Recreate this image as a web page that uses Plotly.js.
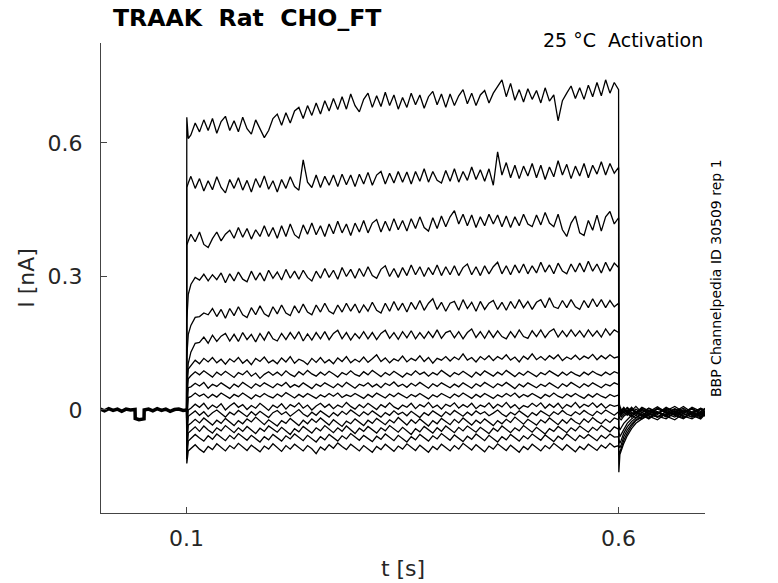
<!DOCTYPE html>
<html>
<head>
<meta charset="utf-8">
<script src="https://cdn.plot.ly/plotly-3.0.1.min.js"></script>
<style>
html, body { margin:0; padding:0; background:#fff; }
#traak-chart { width:778px; height:583px; }
</style>
</head>
<body>
<div id="traak-chart"></div>
<script>
// sample times in seconds
function grid(start, stop, step) {
  var out = [];
  var n = Math.round((stop - start) / step);
  for (var i = 0; i <= n; i++) out.push(+(start + i * step).toFixed(4));
  return out;
}

// holding period before the step (all sweeps overlap here)
const tPre = [0, 0.005, 0.01, 0.015, 0.02, 0.025, 0.03, 0.035, 0.0404, 0.0406, 0.045, 0.0508, 0.051, 0.056, 0.061, 0.066, 0.071, 0.076, 0.081, 0.086, 0.091, 0.096, 0.1];
const iPre = [0.002, -0.002, 0.003, -0.001, 0.002, -0.003, 0.002, 0, 0.001, -0.019, -0.022, -0.02, 0, 0.002, -0.002, 0.003, -0.001, 0.002, -0.003, 0.001, 0.002, -0.001, 0];

// step onset, then every 5 ms up to the end of the step
const tStep = [0.1, 0.1003, 0.102].concat(grid(0.105, 0.6, 0.005));
const tTail = [0.6003, 0.6015, 0.603, 0.606, 0.61, 0.615, 0.62, 0.627, 0.635, 0.645, 0.655, 0.665, 0.675, 0.685, 0.695, 0.7];

// sweeps during the step, nA (top to bottom)
const step1 = [0, 0.658, 0.61,
  0.618, 0.645, 0.625, 0.652, 0.628, 0.655, 0.622, 0.648, 0.66, 0.628,
  0.65, 0.625, 0.658, 0.632, 0.62, 0.652, 0.63, 0.612, 0.628, 0.655,
  0.665, 0.64, 0.668, 0.645, 0.672, 0.68, 0.655, 0.684, 0.662, 0.69,
  0.665, 0.695, 0.672, 0.7, 0.675, 0.704, 0.676, 0.71, 0.684, 0.67,
  0.698, 0.712, 0.68, 0.706, 0.682, 0.714, 0.684, 0.708, 0.676, 0.702,
  0.68, 0.712, 0.686, 0.708, 0.678, 0.704, 0.716, 0.686, 0.71, 0.68,
  0.71, 0.684, 0.706, 0.72, 0.688, 0.712, 0.684, 0.708, 0.718, 0.69,
  0.712, 0.728, 0.742, 0.704, 0.734, 0.696, 0.72, 0.692, 0.722, 0.698,
  0.718, 0.69, 0.724, 0.694, 0.708, 0.65, 0.695, 0.712, 0.728, 0.7,
  0.724, 0.698, 0.73, 0.704, 0.736, 0.706, 0.742, 0.712, 0.736, 0.72];
const step2 = [0, 0.5, 0.51,
  0.525, 0.498, 0.52, 0.492, 0.515, 0.495, 0.524, 0.5, 0.488, 0.518,
  0.498, 0.522, 0.494, 0.516, 0.49, 0.52, 0.5, 0.526, 0.496, 0.515,
  0.49, 0.518, 0.498, 0.524, 0.502, 0.494, 0.562, 0.512, 0.5, 0.528,
  0.5, 0.525, 0.505, 0.528, 0.502, 0.53, 0.506, 0.528, 0.502, 0.53,
  0.508, 0.534, 0.505, 0.528, 0.536, 0.508, 0.532, 0.51, 0.536, 0.512,
  0.535, 0.508, 0.536, 0.514, 0.542, 0.512, 0.536, 0.516, 0.51, 0.538,
  0.514, 0.542, 0.512, 0.536, 0.516, 0.546, 0.518, 0.54, 0.514, 0.542,
  0.505, 0.58, 0.528, 0.556, 0.522, 0.55, 0.52, 0.548, 0.526, 0.554,
  0.522, 0.55, 0.518, 0.546, 0.524, 0.56, 0.528, 0.552, 0.52, 0.548,
  0.526, 0.554, 0.522, 0.55, 0.53, 0.558, 0.528, 0.554, 0.532, 0.545];
const step3 = [0, 0.37, 0.38,
  0.395, 0.378, 0.4, 0.372, 0.365, 0.385, 0.4, 0.38, 0.395, 0.404,
  0.386, 0.41, 0.388, 0.408, 0.384, 0.405, 0.39, 0.414, 0.39, 0.41,
  0.386, 0.414, 0.39, 0.418, 0.394, 0.386, 0.416, 0.395, 0.42, 0.394,
  0.414, 0.39, 0.418, 0.396, 0.424, 0.398, 0.418, 0.392, 0.42, 0.4,
  0.426, 0.398, 0.42, 0.428, 0.4, 0.424, 0.402, 0.43, 0.405, 0.426,
  0.402, 0.43, 0.408, 0.434, 0.41, 0.402, 0.432, 0.408, 0.436, 0.412,
  0.434, 0.448, 0.418, 0.44, 0.414, 0.438, 0.41, 0.434, 0.414, 0.44,
  0.418, 0.438, 0.412, 0.436, 0.41, 0.434, 0.414, 0.44, 0.418, 0.412,
  0.438, 0.416, 0.444, 0.42, 0.412, 0.44, 0.405, 0.39, 0.42, 0.436,
  0.398, 0.392, 0.426, 0.404, 0.438, 0.402, 0.434, 0.446, 0.418, 0.432];
const step4 = [0, 0.2, 0.26,
  0.282, 0.298, 0.292, 0.305, 0.29, 0.304, 0.293, 0.308, 0.286, 0.306,
  0.29, 0.31, 0.294, 0.288, 0.312, 0.292, 0.308, 0.29, 0.314, 0.296,
  0.31, 0.292, 0.316, 0.296, 0.312, 0.294, 0.314, 0.298, 0.29, 0.312,
  0.296, 0.318, 0.298, 0.314, 0.294, 0.32, 0.3, 0.316, 0.296, 0.318,
  0.3, 0.322, 0.302, 0.296, 0.316, 0.324, 0.3, 0.318, 0.298, 0.32,
  0.302, 0.326, 0.304, 0.322, 0.3, 0.32, 0.304, 0.326, 0.302, 0.322,
  0.304, 0.324, 0.302, 0.32, 0.328, 0.304, 0.322, 0.302, 0.324, 0.306,
  0.322, 0.332, 0.306, 0.324, 0.304, 0.326, 0.308, 0.328, 0.306, 0.324,
  0.308, 0.332, 0.31, 0.326, 0.306, 0.33, 0.312, 0.306, 0.328, 0.31,
  0.33, 0.31, 0.334, 0.312, 0.328, 0.308, 0.332, 0.312, 0.33, 0.32];
const step5 = [0, 0.12, 0.17,
  0.19, 0.208, 0.21, 0.218, 0.214, 0.228, 0.21, 0.226, 0.206, 0.228,
  0.212, 0.232, 0.214, 0.208, 0.23, 0.214, 0.234, 0.216, 0.21, 0.232,
  0.216, 0.236, 0.218, 0.212, 0.234, 0.218, 0.238, 0.22, 0.214, 0.236,
  0.22, 0.24, 0.222, 0.216, 0.236, 0.22, 0.24, 0.222, 0.238, 0.218,
  0.236, 0.222, 0.242, 0.224, 0.218, 0.24, 0.222, 0.244, 0.224, 0.24,
  0.22, 0.242, 0.226, 0.246, 0.224, 0.24, 0.25, 0.226, 0.242, 0.222,
  0.24, 0.244, 0.224, 0.248, 0.228, 0.242, 0.222, 0.244, 0.226, 0.24,
  0.246, 0.226, 0.242, 0.224, 0.244, 0.228, 0.248, 0.23, 0.244, 0.226,
  0.242, 0.248, 0.23, 0.252, 0.232, 0.228, 0.246, 0.23, 0.248, 0.232,
  0.226, 0.246, 0.23, 0.25, 0.232, 0.248, 0.23, 0.246, 0.232, 0.24];
const step6 = [0, 0.06, 0.105,
  0.13, 0.15, 0.152, 0.164, 0.15, 0.168, 0.154, 0.166, 0.172, 0.155,
  0.17, 0.154, 0.174, 0.158, 0.17, 0.153, 0.172, 0.157, 0.176, 0.16,
  0.155, 0.172, 0.158, 0.174, 0.16, 0.176, 0.155, 0.171, 0.157, 0.174,
  0.16, 0.176, 0.158, 0.172, 0.179, 0.16, 0.174, 0.157, 0.172, 0.161,
  0.176, 0.16, 0.174, 0.158, 0.172, 0.179, 0.161, 0.174, 0.159, 0.176,
  0.162, 0.178, 0.16, 0.174, 0.161, 0.176, 0.163, 0.18, 0.161, 0.174,
  0.178, 0.162, 0.176, 0.16, 0.174, 0.182, 0.163, 0.176, 0.161, 0.178,
  0.163, 0.178, 0.165, 0.16, 0.176, 0.163, 0.18, 0.165, 0.161, 0.178,
  0.165, 0.18, 0.163, 0.176, 0.182, 0.164, 0.178, 0.165, 0.18, 0.166,
  0.178, 0.164, 0.18, 0.166, 0.178, 0.164, 0.182, 0.168, 0.18, 0.174];
const step7 = [0, 0.04, 0.092,
  0.1, 0.112, 0.104, 0.116, 0.108, 0.118, 0.106, 0.114, 0.103, 0.115,
  0.108, 0.118, 0.105, 0.113, 0.102, 0.116, 0.109, 0.119, 0.106, 0.112,
  0.104, 0.117, 0.108, 0.12, 0.105, 0.114, 0.11, 0.102, 0.116, 0.107,
  0.118, 0.106, 0.113, 0.104, 0.117, 0.109, 0.12, 0.106, 0.114, 0.108,
  0.119, 0.107, 0.115, 0.124, 0.109, 0.117, 0.106, 0.115, 0.11, 0.121,
  0.108, 0.116, 0.111, 0.122, 0.109, 0.118, 0.105, 0.116, 0.112, 0.12,
  0.11, 0.119, 0.113, 0.126, 0.112, 0.118, 0.108, 0.12, 0.113, 0.122,
  0.111, 0.12, 0.114, 0.124, 0.112, 0.119, 0.108, 0.121, 0.114, 0.126,
  0.113, 0.12, 0.112, 0.122, 0.115, 0.124, 0.111, 0.119, 0.114, 0.123,
  0.113, 0.121, 0.116, 0.125, 0.113, 0.122, 0.115, 0.124, 0.117, 0.12];
const step8 = [0, 0.02, 0.07,
  0.077, 0.086, 0.079, 0.088, 0.081, 0.074, 0.085, 0.078, 0.087, 0.08,
  0.073, 0.084, 0.079, 0.088, 0.076, 0.083, 0.071, 0.08, 0.086, 0.078,
  0.085, 0.077, 0.088, 0.08, 0.075, 0.086, 0.079, 0.089, 0.081, 0.076,
  0.085, 0.078, 0.087, 0.081, 0.074, 0.084, 0.079, 0.088, 0.08, 0.076,
  0.086, 0.079, 0.089, 0.082, 0.075, 0.084, 0.078, 0.087, 0.081, 0.074,
  0.083, 0.078, 0.088, 0.08, 0.085, 0.076, 0.084, 0.079, 0.089, 0.081,
  0.075, 0.084, 0.079, 0.087, 0.08, 0.074, 0.085, 0.078, 0.088, 0.081,
  0.076, 0.085, 0.079, 0.089, 0.082, 0.075, 0.084, 0.078, 0.087, 0.08,
  0.075, 0.084, 0.079, 0.088, 0.081, 0.076, 0.085, 0.078, 0.086, 0.08,
  0.076, 0.085, 0.079, 0.087, 0.081, 0.077, 0.085, 0.079, 0.086, 0.082];
const step9 = [0, -0.015, 0.05,
  0.052, 0.06, 0.054, 0.062, 0.049, 0.058, 0.053, 0.061, 0.055, 0.048,
  0.058, 0.052, 0.062, 0.055, 0.049, 0.059, 0.053, 0.061, 0.056, 0.05,
  0.059, 0.054, 0.062, 0.051, 0.057, 0.052, 0.061, 0.055, 0.048, 0.058,
  0.053, 0.061, 0.056, 0.05, 0.059, 0.052, 0.062, 0.055, 0.049, 0.058,
  0.054, 0.061, 0.052, 0.058, 0.05, 0.06, 0.055, 0.063, 0.053, 0.058,
  0.051, 0.06, 0.054, 0.062, 0.056, 0.049, 0.059, 0.053, 0.061, 0.055,
  0.05, 0.058, 0.052, 0.061, 0.055, 0.049, 0.059, 0.053, 0.062, 0.056,
  0.05, 0.059, 0.054, 0.062, 0.055, 0.048, 0.058, 0.052, 0.061, 0.055,
  0.05, 0.058, 0.053, 0.061, 0.054, 0.049, 0.059, 0.053, 0.062, 0.056,
  0.05, 0.059, 0.053, 0.061, 0.055, 0.05, 0.058, 0.054, 0.061, 0.057];
const step10 = [0, -0.035, 0.028,
  0.03, 0.038, 0.031, 0.036, 0.027, 0.035, 0.029, 0.038, 0.032, 0.026,
  0.035, 0.03, 0.038, 0.032, 0.025, 0.034, 0.029, 0.037, 0.031, 0.027,
  0.036, 0.03, 0.039, 0.033, 0.027, 0.035, 0.029, 0.037, 0.032, 0.026,
  0.034, 0.029, 0.037, 0.031, 0.038, 0.028, 0.034, 0.03, 0.037, 0.032,
  0.026, 0.035, 0.029, 0.038, 0.032, 0.027, 0.036, 0.03, 0.038, 0.033,
  0.027, 0.035, 0.03, 0.037, 0.031, 0.025, 0.034, 0.029, 0.037, 0.032,
  0.027, 0.036, 0.03, 0.038, 0.032, 0.026, 0.035, 0.029, 0.037, 0.031,
  0.026, 0.034, 0.029, 0.037, 0.031, 0.038, 0.028, 0.035, 0.03, 0.037,
  0.032, 0.026, 0.035, 0.03, 0.038, 0.031, 0.027, 0.036, 0.03, 0.037,
  0.031, 0.026, 0.035, 0.029, 0.037, 0.031, 0.027, 0.035, 0.03, 0.034];
const step11 = [0, -0.055, 0.0,
  0.004, 0.013, 0.006, 0.015, 0.002, 0.011, 0.005, 0.014, 0.0, 0.009,
  0.016, 0.006, 0.012, 0.001, 0.01, 0.004, 0.015, 0.007, -0.001, 0.011,
  0.005, 0.014, 0.002, 0.012, 0.007, 0.016, 0.004, 0.011, 0.0, 0.009,
  0.015, 0.006, 0.013, 0.003, 0.011, 0.006, 0.017, 0.008, 0.002, 0.012,
  0.005, 0.015, 0.008, 0.001, 0.012, 0.006, 0.016, 0.007, 0.002, 0.011,
  0.006, 0.015, 0.003, 0.012, 0.007, 0.017, 0.005, 0.011, 0.002, 0.013,
  0.008, 0.016, 0.004, 0.012, 0.006, 0.015, 0.003, 0.011, 0.007, 0.016,
  0.004, 0.013, 0.007, 0.017, 0.005, 0.012, 0.002, 0.01, 0.006, 0.015,
  0.008, 0.016, 0.004, 0.013, 0.006, 0.015, 0.003, 0.012, 0.007, 0.017,
  0.005, 0.013, 0.008, 0.016, 0.006, 0.014, 0.004, 0.012, 0.008, 0.011];
const step12 = [0, -0.07, -0.014,
  -0.01, -0.002, -0.012, -0.004, -0.015, -0.006, 0.0, -0.009, -0.016, -0.005,
  -0.011, -0.001, -0.008, -0.015, -0.004, -0.012, -0.003, -0.01, -0.017, -0.006,
  -0.001, -0.01, -0.004, -0.014, -0.007, 0.001, -0.009, -0.015, -0.005, -0.012,
  -0.002, -0.009, -0.016, -0.006, -0.013, -0.003, -0.01, 0.0, -0.008, -0.014,
  -0.004, -0.011, -0.002, -0.009, -0.016, -0.006, -0.012, -0.002, -0.01, -0.005,
  -0.013, -0.003, -0.01, -0.017, -0.006, -0.012, -0.002, -0.009, -0.015, -0.004,
  -0.011, -0.001, -0.008, -0.014, -0.005, -0.012, -0.002, -0.009, -0.004, -0.013,
  -0.007, 0.0, -0.009, -0.015, -0.005, -0.011, -0.002, -0.01, -0.016, -0.006,
  -0.012, -0.002, -0.008, -0.014, -0.004, -0.01, -0.001, -0.009, -0.013, -0.004,
  -0.01, -0.001, -0.008, -0.013, -0.003, -0.009, 0.0, -0.007, -0.012, -0.004];
const step13 = [0, -0.085, -0.034,
  -0.03, -0.021, -0.029, -0.018, -0.027, -0.034, -0.023, -0.03, -0.019, -0.028,
  -0.035, -0.024, -0.031, -0.02, -0.027, -0.016, -0.025, -0.033, -0.022, -0.029,
  -0.036, -0.024, -0.03, -0.019, -0.027, -0.035, -0.023, -0.031, -0.02, -0.028,
  -0.018, -0.026, -0.034, -0.022, -0.03, -0.037, -0.025, -0.031, -0.02, -0.028,
  -0.035, -0.023, -0.03, -0.019, -0.027, -0.033, -0.022, -0.029, -0.017, -0.026,
  -0.034, -0.022, -0.03, -0.02, -0.028, -0.036, -0.024, -0.031, -0.019, -0.027,
  -0.033, -0.021, -0.029, -0.018, -0.026, -0.034, -0.023, -0.03, -0.02, -0.028,
  -0.035, -0.024, -0.031, -0.021, -0.028, -0.016, -0.025, -0.032, -0.021, -0.028,
  -0.034, -0.022, -0.029, -0.018, -0.026, -0.033, -0.022, -0.03, -0.019, -0.027,
  -0.032, -0.02, -0.028, -0.017, -0.025, -0.031, -0.021, -0.028, -0.018, -0.022];
const step14 = [0, -0.1, -0.052,
  -0.046, -0.038, -0.048, -0.036, -0.045, -0.052, -0.04, -0.047, -0.035, -0.044,
  -0.051, -0.04, -0.048, -0.037, -0.045, -0.053, -0.041, -0.048, -0.036, -0.044,
  -0.05, -0.039, -0.047, -0.055, -0.042, -0.049, -0.037, -0.045, -0.052, -0.04,
  -0.047, -0.035, -0.044, -0.051, -0.04, -0.048, -0.036, -0.045, -0.053, -0.041,
  -0.048, -0.037, -0.045, -0.052, -0.04, -0.047, -0.035, -0.043, -0.05, -0.039,
  -0.047, -0.055, -0.042, -0.049, -0.037, -0.045, -0.052, -0.04, -0.048, -0.036,
  -0.044, -0.051, -0.039, -0.047, -0.036, -0.043, -0.05, -0.039, -0.046, -0.053,
  -0.041, -0.048, -0.036, -0.044, -0.051, -0.04, -0.047, -0.035, -0.043, -0.05,
  -0.039, -0.046, -0.054, -0.042, -0.048, -0.037, -0.044, -0.051, -0.04, -0.047,
  -0.036, -0.043, -0.05, -0.039, -0.046, -0.035, -0.042, -0.049, -0.038, -0.043];
const step15 = [0, -0.11, -0.07,
  -0.064, -0.055, -0.063, -0.07, -0.058, -0.066, -0.054, -0.062, -0.069, -0.057,
  -0.065, -0.053, -0.061, -0.068, -0.057, -0.064, -0.072, -0.06, -0.067, -0.055,
  -0.063, -0.07, -0.058, -0.065, -0.054, -0.062, -0.069, -0.057, -0.064, -0.072,
  -0.06, -0.067, -0.055, -0.063, -0.07, -0.058, -0.065, -0.053, -0.061, -0.068,
  -0.057, -0.064, -0.071, -0.059, -0.066, -0.054, -0.062, -0.069, -0.057, -0.064,
  -0.072, -0.06, -0.067, -0.055, -0.063, -0.07, -0.058, -0.065, -0.053, -0.061,
  -0.068, -0.056, -0.064, -0.071, -0.059, -0.066, -0.054, -0.062, -0.069, -0.057,
  -0.064, -0.072, -0.06, -0.067, -0.055, -0.063, -0.07, -0.058, -0.065, -0.054,
  -0.061, -0.068, -0.056, -0.064, -0.071, -0.059, -0.066, -0.054, -0.062, -0.069,
  -0.057, -0.064, -0.055, -0.062, -0.069, -0.057, -0.064, -0.054, -0.061, -0.06];
const step16 = [0, -0.12, -0.092,
  -0.086, -0.078, -0.088, -0.095, -0.082, -0.089, -0.076, -0.085, -0.092, -0.08,
  -0.087, -0.075, -0.084, -0.091, -0.079, -0.087, -0.094, -0.081, -0.088, -0.076,
  -0.085, -0.093, -0.08, -0.088, -0.077, -0.084, -0.092, -0.08, -0.087, -0.098,
  -0.083, -0.09, -0.078, -0.086, -0.074, -0.082, -0.089, -0.077, -0.085, -0.092,
  -0.08, -0.088, -0.095, -0.082, -0.089, -0.077, -0.085, -0.093, -0.081, -0.088,
  -0.076, -0.084, -0.091, -0.079, -0.087, -0.095, -0.082, -0.089, -0.077, -0.085,
  -0.092, -0.08, -0.088, -0.075, -0.083, -0.09, -0.078, -0.086, -0.094, -0.081,
  -0.088, -0.076, -0.084, -0.091, -0.079, -0.087, -0.095, -0.082, -0.089, -0.077,
  -0.085, -0.092, -0.08, -0.087, -0.075, -0.083, -0.09, -0.078, -0.086, -0.094,
  -0.082, -0.089, -0.077, -0.084, -0.091, -0.079, -0.086, -0.075, -0.083, -0.08];

// tail currents after stepping back, nA
const tail1 = [0.018, 0.008, 0.002, -0.004, 0.006, -0.002, 0.008, -0.006, 0.004, -0.008, 0.006, -0.004, 0.008, -0.006, 0.004, 0.0];
const tail2 = [0.015, 0.005, -0.002, 0.006, -0.005, 0.004, -0.008, 0.005, -0.004, 0.007, -0.006, 0.003, -0.008, 0.006, -0.003, 0.002];
const tail3 = [0.012, 0.004, -0.004, 0.004, -0.006, 0.006, -0.004, 0.002, -0.008, 0.004, -0.002, 0.008, -0.004, 0.002, -0.006, 0.004];
const tail4 = [0.01, 0.002, -0.005, 0.003, -0.008, 0.002, -0.006, 0.006, -0.002, -0.01, 0.004, -0.006, 0.004, -0.01, 0.003, -0.004];
const tail5 = [0.008, 0.0, -0.006, 0.002, -0.004, -0.01, 0.002, -0.006, 0.004, -0.004, -0.012, 0.002, -0.004, 0.004, -0.008, -0.002];
const tail6 = [0.006, -0.002, -0.008, -0.002, 0.004, -0.006, -0.012, 0.0, -0.008, 0.002, -0.006, -0.01, 0.0, -0.006, 0.002, -0.008];
const tail7 = [0.004, -0.004, -0.01, -0.004, -0.012, 0.0, -0.006, -0.014, -0.002, -0.008, 0.002, -0.012, -0.004, 0.002, -0.01, -0.004];
const tail8 = [0.0, -0.008, -0.012, -0.006, 0.0, -0.01, -0.004, -0.012, 0.0, -0.006, -0.014, -0.002, -0.008, -0.016, -0.004, -0.01];
const tail9 = [-0.006, -0.012, -0.016, -0.01, -0.004, -0.014, -0.006, 0.002, -0.01, -0.016, -0.004, -0.01, 0.0, -0.012, -0.006, -0.014];
const tail10 = [-0.012, -0.02, -0.022, -0.014, -0.008, -0.016, -0.004, -0.012, -0.02, -0.006, -0.012, -0.002, -0.016, -0.008, -0.018, -0.006];
const tail11 = [-0.035, -0.045, -0.04, -0.03, -0.022, -0.012, -0.018, -0.006, -0.014, -0.022, -0.008, -0.016, -0.004, -0.012, -0.02, -0.01];
const tail12 = [-0.05, -0.06, -0.055, -0.042, -0.03, -0.02, -0.012, -0.02, -0.008, -0.016, -0.004, -0.012, -0.02, -0.006, -0.014, -0.008];
const tail13 = [-0.065, -0.075, -0.068, -0.052, -0.038, -0.026, -0.018, -0.01, -0.018, -0.006, -0.014, -0.022, -0.008, -0.016, -0.004, -0.012];
const tail14 = [-0.08, -0.085, -0.078, -0.06, -0.045, -0.032, -0.022, -0.014, -0.006, -0.016, -0.01, -0.002, -0.014, -0.02, -0.008, -0.012];
const tail15 = [-0.1, -0.095, -0.085, -0.068, -0.052, -0.036, -0.024, -0.016, -0.008, -0.014, -0.02, -0.006, -0.012, -0.004, -0.016, -0.01];
const tail16 = [-0.14, -0.1, -0.09, -0.075, -0.058, -0.042, -0.03, -0.02, -0.012, -0.004, -0.016, -0.008, -0.018, -0.006, -0.012, -0.002];

const xTicks = [0.1, 0.6];
const xTickText = ["0.1", "0.6"];
const yTicks = [0, 0.3, 0.6];
const yTickText = ["0", "0.3", "0.6"];

const steps = [step1, step2, step3, step4, step5, step6, step7, step8, step9, step10, step11, step12, step13, step14, step15, step16];
const tails = [tail1, tail2, tail3, tail4, tail5, tail6, tail7, tail8, tail9, tail10, tail11, tail12, tail13, tail14, tail15, tail16];

var data = [{
  x: tPre, y: iPre, mode: "lines",
  line: {color: "#000", width: 3.5}, hoverinfo: "skip"
}];

steps.forEach(function (sweep, k) {
  data.push({
    x: tStep.concat(tTail),
    y: sweep.concat(tails[k]),
    mode: "lines",
    line: {color: "#000", width: 1.3},
    hoverinfo: "skip"
  });
});

var nb = "\u00A0";
var layout = {
  width: 778, height: 583,
  paper_bgcolor: "#fff", plot_bgcolor: "#fff",
  showlegend: false,
  font: {family: "DejaVu Sans", color: "#262626"},
  margin: {l: 101, r: 73, t: 43, b: 70},
  title: {
    text: "<b>TRAAK" + nb + nb + "Rat" + nb + nb + "CHO_FT</b>",
    font: {family: "DejaVu Sans", size: 23.6, color: "#000"},
    x: 113 / 778, xanchor: "left", xref: "container",
    y: 1 - 18 / 583, yanchor: "middle", yref: "container"
  },
  xaxis: {
    range: [0.001, 0.7],
    tickvals: xTicks, ticktext: xTickText,
    ticks: "inside", ticklen: 6, tickcolor: "#444",
    showline: true, linecolor: "#444", linewidth: 1,
    showgrid: false, zeroline: false,
    tickfont: {size: 22, color: "#262626"},
    ticklabelstandoff: 6,
    title: {text: "t [s]", font: {size: 22, color: "#262626"}, standoff: 10}
  },
  yaxis: {
    range: [-0.2315, 0.8247],
    tickvals: yTicks, ticktext: yTickText,
    ticks: "inside", ticklen: 6, tickcolor: "#444",
    showline: true, linecolor: "#444", linewidth: 1,
    showgrid: false, zeroline: false,
    tickfont: {size: 22, color: "#262626"},
    ticklabelstandoff: 13,
    title: {text: "I [nA]", font: {size: 22, color: "#262626"}, standoff: 6}
  },
  annotations: [{
    text: "25 °C" + nb + nb + "Activation",
    xref: "paper", yref: "paper", x: 1, y: 1 + 3 / 470,
    xanchor: "right", yanchor: "middle", showarrow: false,
    font: {size: 19, color: "#000"}
  }, {
    text: "BBP Channelpedia ID 30509 rep 1",
    xref: "paper", yref: "paper", x: (716 - 101) / 604, y: (513 - 278) / 470,
    xanchor: "center", yanchor: "middle", textangle: -90, showarrow: false,
    font: {size: 14, color: "#000"}
  }]
};

var config = {responsive: false, displayModeBar: false, staticPlot: true};

Plotly.newPlot("traak-chart", data, layout, config);
</script>
</body>
</html>
